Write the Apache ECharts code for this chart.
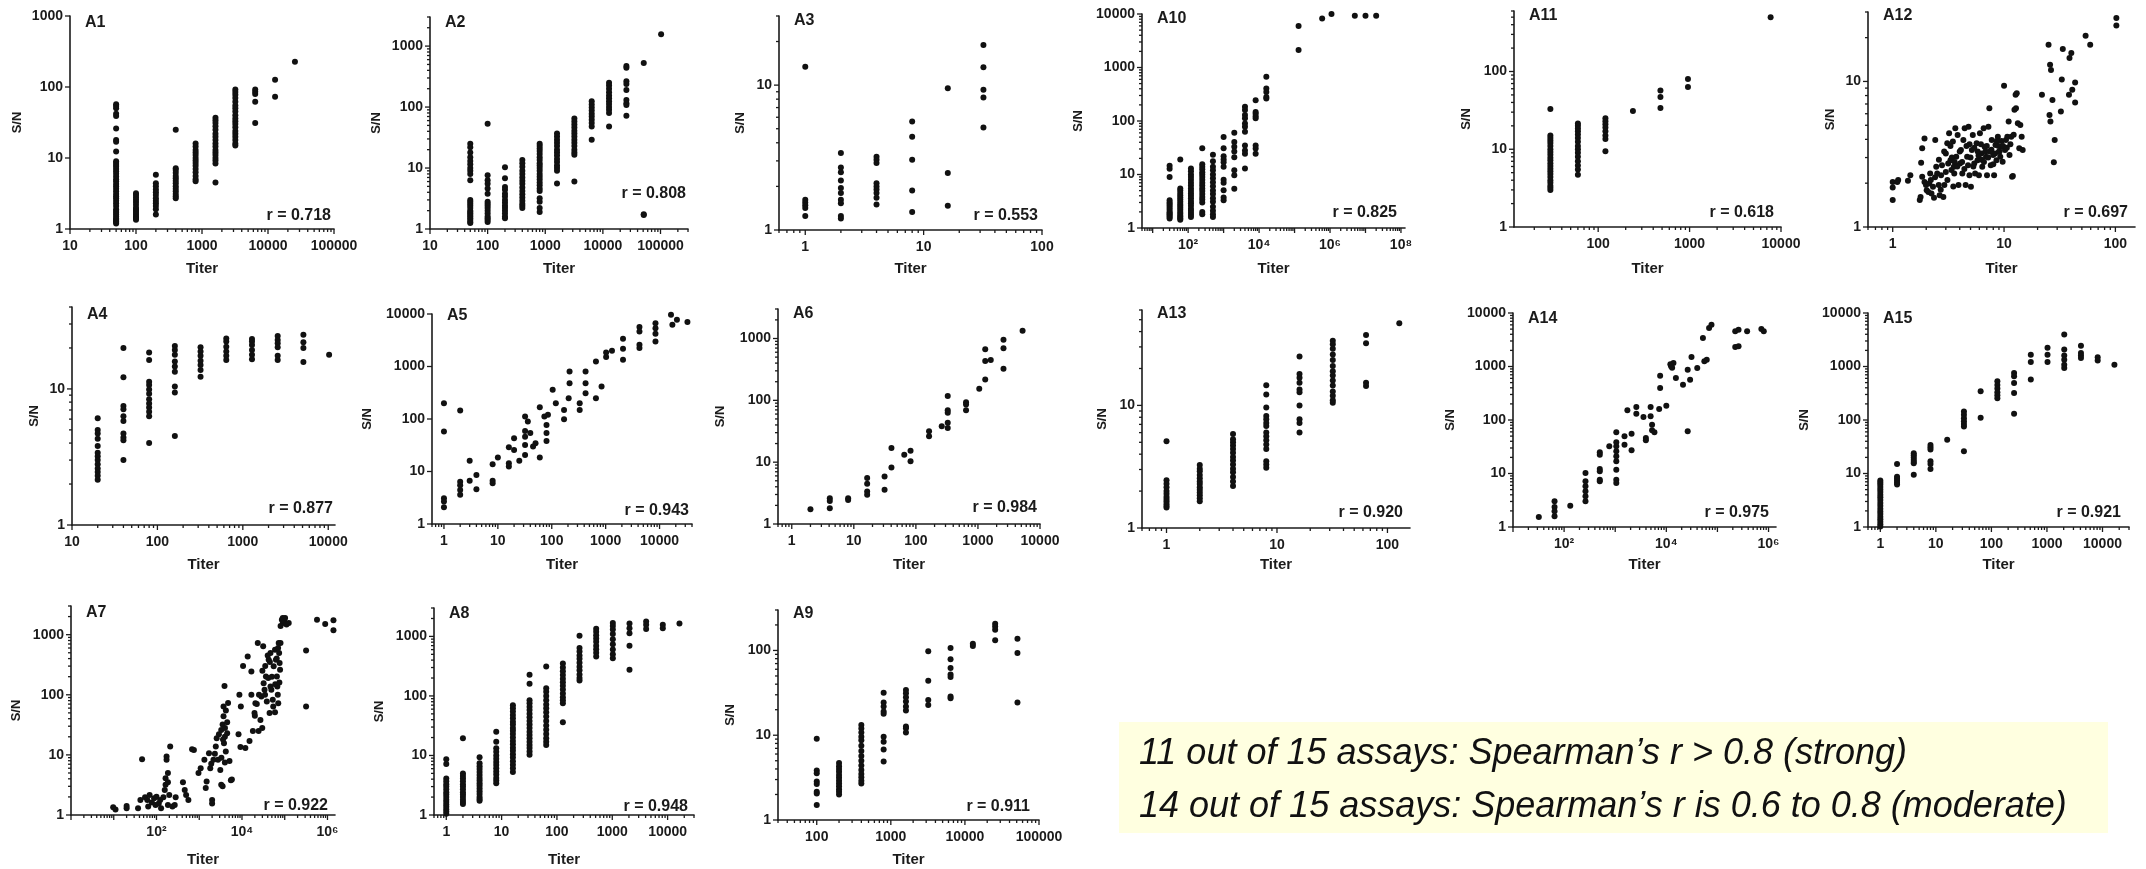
<!DOCTYPE html>
<html><head><meta charset="utf-8">
<script src="https://cdn.jsdelivr.net/npm/echarts@6/dist/echarts.min.js"></script>
<style>html,body{margin:0;padding:0;background:#fff}#c{width:2146px;height:869px}</style>
</head><body><div id="c"></div>
<script>
// ---------------- DATA (titer, S/N) ----------------
const panelIds = ['A1','A2','A3','A10','A11','A12','A4','A5','A6','A13','A14','A15','A7','A8','A9'];
const rValues  = ['0.718','0.808','0.553','0.825','0.618','0.697','0.877','0.943','0.984','0.920','0.975','0.921','0.922','0.948','0.911'];
const xRanges = [[10,1e5],[10,3e5],[0.6,100],[5,1.3e8],[12,1e4],[0.6,150],[10,12000],[0.6,40000],[0.6,1e4],[0.6,160],[10,1.4e6],[0.6,30000],[1,1.5e6],[0.6,30000],[30,1e5]];
const yRanges = [[1,1000],[1,3000],[1,30],[1,1e4],[1,600],[1,30],[1,40],[1,1e4],[1,3000],[1,60],[1,1e4],[1,1e4],[1,3000],[1,3000],[1,300]];
const superscriptX = ['A10','A14','A7'];

// column style data: [titer, [S/N values]]
const A1 = [
 [50,[57,54,50,42,39,26,18,17,12.3,9,8.5,8,7.5,7,6.5,6,5.5,5,4.7,4.3,4,3.7,3.4,3.1,2.9,2.7,2.5,2.3,2.1,1.9,1.8,1.7,1.6,1.5,1.4,1.35,1.3,1.25,1.2]],
 [100,[3.2,3.0,2.8,2.6,2.4,2.2,2.0,1.9,1.8,1.7,1.6,1.5,1.45,1.4,1.35]],
 [200,[5.8,4.4,4.0,3.6,3.3,3.0,2.7,2.5,2.3,2.1,1.9,1.6]],
 [400,[25,7.2,6.8,6.2,5.6,5.2,4.8,4.4,4.0,3.7,3.4,3.1,2.9,2.7]],
 [800,[16,14.5,13,12,11,10,9.2,8.5,7.8,7.0,6.3,5.6,5.0,4.7]],
 [1600,[37,34,31,28,25,22,20,18,16,14.5,13,12,11,10,9.2,8.4,4.5]],
 [3200,[92,85,78,70,62,55,50,45,40,36,33,30,27,24,22,20,18,16,15]],
 [6400,[92,86,80,62,31]],
 [12800,[127,73]],
 [25600,[226]]
];
const A2 = [
 [50,[25,22,18,15,13,11.5,10,9,8,6.3,3.0,2.8,2.6,2.4,2.2,2.0,1.9,1.8,1.7,1.6,1.5,1.4,1.3,1.25]],
 [100,[53,7.6,6.3,5.5,4.6,3.8,2.8,2.6,2.4,2.2,2.0,1.8,1.6,1.5,1.4,1.3]],
 [200,[10.3,6.8,4.9,4.4,3.8,3.4,3.0,2.7,2.4,2.2,2.0,1.8,1.6,1.5]],
 [400,[13.5,12,10.5,9,8,7,6.2,5.5,4.8,4.2,3.7,3.3,2.9,2.6,2.4,2.2]],
 [800,[25,23,21,19,17,15,13.5,12,11,10,9,8,7.2,6.5,5.8,5.2,4.6,4.2,3.2,2.8,2.2,1.9]],
 [1600,[37,33,29,26,23,20,18,16,14,12.5,11,10,9,5.6]],
 [3200,[65,58,52,46,41,37,33,29,26,23,20,18,16.5,6.0]],
 [6400,[125,110,98,88,78,70,62,55,48,29]],
 [12800,[250,225,200,175,155,140,125,112,100,90,80,48]],
 [25600,[470,440,265,240,190,130,115,108,72]],
 [51200,[530,1.75,1.7]],
 [102400,[1560]]
];
const A3 = [
 [1,[13.4,1.62,1.55,1.48,1.42,1.25]],
 [2,[3.4,2.7,2.5,2.2,1.95,1.8,1.62,1.53,1.25,1.2]],
 [4,[3.2,3.05,2.9,2.1,2.0,1.9,1.8,1.67,1.5]],
 [8,[5.6,4.4,3.06,1.87,1.33]],
 [16,[9.5,2.47,1.47]],
 [32,[18.9,13.3,9.3,8.2,5.1]]
];
const A10 = [
 [30,[14.5,12.8,9,3.3,3.0,2.8,2.6,2.4,2.2,2.0,1.9,1.8,1.7,1.6,1.5]],
 [60,[19,5.5,5.0,4.5,4.1,3.7,3.4,3.1,2.8,2.6,2.4,2.2,2.0,1.85,1.7,1.6,1.5,1.43]],
 [120,[12.9,11.5,10,9,8,7,6.2,5.5,4.9,4.4,4.0,3.6,3.2,2.9,2.6,2.3,2.1,1.9,1.75,1.6]],
 [250,[31,15.5,14,12.5,11,10,9,8,7,6.2,5.5,4.9,4.3,3.8,3.4,3.0,2.0,1.8]],
 [500,[23.5,17.7,14,12,10,8.5,7.2,6,5,4.3,3.6,3.1,2.5,2.1,1.8,1.6]],
 [1000,[50,31,22,19,17,14,8,7,5.1,3.7,3.3]],
 [2000,[60,40.5,33,27,21,12,9.7,5.4]],
 [4000,[185,160,130,112,90,78,63,35,28,24.5,12.9]],
 [8000,[245,148,137,123,112,35,30.5,24.5]],
 [16000,[670,405,350,282,262]],
 [130000,[5970,2130]],
 [600000,[8200]],
 [1100000,[10000]],
 [5000000,[9300]],
 [10000000,[9300]],
 [20000000,[9300]]
];
const A11 = [
 [30,[33,15,14,13,12,11,10,9.2,8.5,7.8,7.2,6.6,6.1,5.6,5.2,4.8,4.4,4.0,3.7,3.4,3.2,3.0]],
 [60,[21.5,20,18.5,17,15.5,14,12.5,11,10,9,8,7,6.2,5.5,4.7]],
 [120,[25,23,21,19,17,15,13.5,9.4]],
 [240,[31]],
 [480,[57,47,34]],
 [960,[80,63]],
 [7700,[500]]
];
// scattered style data: [titer, S/N]
const A12 = [
 [1,2.04],[1,1.87],[1,1.53],[1.1,2.04],[1.12,2.1],[1.37,2.08],[1.44,2.27],[1.75,1.53],[1.78,1.61],[1.8,2.76],[1.84,2.21],[1.84,3.47],[1.93,4.06],[1.93,2.04],[1.99,1.94],[2.02,1.79],[2.09,1.74],[2.13,1.99],[2.17,2.33],[2.23,1.7],[2.3,1.89],[2.35,1.59],[2.41,3.96],[2.46,2.59],[2.51,2.33],[2.59,1.94],[2.64,1.65],[2.72,2.27],[2.77,2.66],[2.85,1.61],[2.91,1.94],[3.0,2.39],[3.09,3.76],[3.15,2.73],[3.21,4.4],[3.3,2.88],[3.37,2.46],[3.47,3.86],[3.54,2.59],[3.57,2.33],[3.65,4.77],[3.72,3.04],[3.83,4.29],[3.9,1.94],[4.02,2.73],[4.1,3.38],[4.22,2.33],[4.31,3.96],[4.43,4.77],[4.52,1.94],[4.66,3.04],[4.75,2.66],[4.8,4.89],[4.89,2.27],[5.04,1.89],[5.14,3.38],[5.24,4.29],[5.4,2.73],[5.5,2.33],[5.67,3.76],[5.78,2.88],[5.95,2.27],[6.07,4.4],[6.25,3.2],[6.37,2.59],[6.56,4.77],[6.69,3.56],[6.89,3.04],[7.03,2.27],[7.24,4.89],[7.38,6.55],[7.6,2.66],[7.75,3.96],[7.98,3.12],[8.14,2.27],[8.38,3.66],[8.55,2.88],[8.8,4.17],[8.98,3.29],[9.25,3.04],[9.43,3.56],[9.71,2.81],[10,9.34],[10.2,3.38],[10.4,3.96],[10.7,4.17],[11.0,5.3],[11.2,3.12],[11.6,4.17],[11.8,2.21],[12.0,2.24],[12.4,6.38],[12.7,8.09],[12.8,6.55],[13.0,8.31],[13.3,5.16],[13.7,3.47],[14.0,5.02],[14.4,4.17],[14.7,3.38],[21.9,8.09],[25.1,17.9],[25.9,13.0],[26.4,12.0],[25.6,5.89],[26.1,5.3],[27.2,7.47],[28.0,2.78],[28.5,3.96],[32.4,6.21],[33.0,10.3],[33.7,16.7],[38.7,14.5],[40.2,15.7],[41.0,8.76],[38.3,8.09],[43.5,9.84],[43.5,7.16],[54,20.6],[59.4,17.9],[102,27.3],[102,24.2],
 [3.0,3.2],[3.4,3.0],[3.8,2.6],[4.2,2.8],[4.6,3.6],[5.0,3.0],[5.4,3.5],[5.9,3.1],[6.3,2.9],[6.8,3.3],[7.2,3.0],[7.7,3.4],[8.3,3.2],[8.9,3.6],[9.5,3.9],[2.6,2.9],[2.9,3.3],[3.3,3.6],[3.6,2.8],[4.0,3.3],[4.4,2.5],[4.9,3.7],[5.3,2.6],[5.8,3.3],[6.2,3.7],[6.6,2.8],[7.0,3.6],[7.4,3.3],[8.0,2.7],[8.6,3.9],[9.1,3.3],[9.8,3.6],[10.6,3.5],[11.4,3.7],[12.2,4.3],[2.2,2.1],[2.4,2.2],[2.7,1.8],[3.1,2.1],[3.5,1.9]
];
const A4 = [
 [20,[6.1,5.0,4.7,4.3,3.8,3.4,3.2,3.0,2.8,2.6,2.45,2.3,2.15]],
 [40,[20,12.2,7.5,7.1,6.3,5.8,4.7,4.4,4.2,3.0]],
 [80,[18.5,16.3,11.3,10.7,9.9,9.2,8.4,7.8,7.3,6.8,6.3,4.0]],
 [160,[20.7,19.3,17.8,15.9,14.6,13.4,10.4,9.4,4.5]],
 [320,[20.2,18.8,17.5,16.1,15.0,13.8,12.3]],
 [640,[23.5,22.3,20.4,18.8,17.5,16.3]],
 [1280,[23.3,22.3,21.0,19.3,17.8,16.5]],
 [2560,[24.5,22.9,21.7,20.2,17.5,16.3]],
 [5120,[25,22,20,15.8]],
 [10240,[17.8]]
];
const A5 = [
 [1,200],[1,57.7],[1,3.08],[1,2.67],[1,2.08],[2,145],[2,6.4],[2,5.5],[2,4.45],[2,3.6],[3,16.1],[3,6.7],[4,8.6],[4,4.6],[8,13.7],[8,6.7],[8,6.0],[10,18.4],[16,29],[16,14.4],[16,12.4],[20,43],[20,25.8],[25,16.1],[32,59],[32,46],[32,20.7],[32,32],[32,111],[36,90],[40,54],[45,30],[50,34.5],[60,18.4],[60,168],[73,111],[80,77],[80,54],[80,38],[85,120],[104,359],[119,200],[169,99],[169,149],[206,249],[214,804],[214,482],[330,149],[330,200],[424,804],[424,482],[424,310],[660,249],[660,1250],[840,416],[1020,1510],[1020,1850],[1310,1990],[2100,1340],[2100,2180],[2100,3380],[4240,5640],[4240,4660],[4240,2590],[4240,2240],[8400,6690],[8400,5380],[8400,4200],[8400,2990],[16300,9680],[17300,6240],[21000,7780],[32900,7020]
];
const A6 = [
 [2,1.73],[4.1,2.61],[4.1,2.36],[4.1,1.8],[8.1,2.61],[8.1,2.45],[16.4,5.52],[16.4,4.46],[16.4,3.35],[16.4,2.96],[31.3,5.87],[31.3,3.57],[40.4,16.9],[40.4,8.22],[65,13.2],[82,15.3],[82,10.3],[163,31.6],[163,26.2],[261,38.1],[326,117],[326,69.3],[326,62.7],[326,43.2],[326,35.8],[643,93.5],[643,85.7],[643,69.3],[1050,154],[1310,670],[1310,218],[1310,433],[1610,450],[2580,951],[2580,696],[2580,325],[5240,1330]
];
const A13 = [
 [1,[5.1,2.45,2.3,2.15,2.0,1.9,1.8,1.72,1.65,1.58,1.52,1.47]],
 [2,[3.27,3.05,2.9,2.7,2.55,2.4,2.28,2.15,2.05,1.95,1.85,1.75,1.65]],
 [4,[5.85,5.3,5.0,4.7,4.4,4.1,3.8,3.55,3.3,3.05,2.85,2.6,2.4,2.2]],
 [8,[14.6,12.3,9.6,8.2,7.7,7.2,6.8,6.0,5.6,5.2,4.8,4.4,3.5,3.3,3.1]],
 [16,[25,18,16.8,15.3,13.5,12.8,10,7.7,7.2,6.0]],
 [32,[33.7,31.5,29,26,23.5,21,19,17.5,16,14.5,13,12,11,10.5]],
 [64,[37.6,32.2,15.3,14.4]],
 [128,[46.8]]
];
const A14 = [
 [32,1.54],[65,3.02],[65,2.36],[65,1.96],[65,1.58],[132,2.5],[262,10.2],[262,7.14],[262,5.75],[262,4.64],[262,3.74],[262,3.02],[499,24.9],[499,22.5],[499,12.1],[499,11.0],[499,7.67],[499,7.14],[766,32.2],[1050,58.8],[1050,38.3],[1050,32.2],[1050,26],[1050,20.9],[1050,16.9],[1050,11.8],[1050,7.67],[1050,6.64],[1520,34.6],[1520,49.5],[1730,152],[2090,55.6],[2090,27.1],[2590,175],[2590,131],[3570,114],[3980,46.1],[3980,41.7],[4930,175],[4930,117],[5260,81.8],[5260,64.1],[5850,58.8],[7250,161],[7570,674],[7570,396],[10000,185],[12400,1080],[12400,1010],[13800,1160],[12000,1100],[13000,950],[15400,610],[21200,457],[26200,873],[26200,61.4],[29200,567],[31100,1510],[40300,937],[52000,3410],[55500,1250],[61800,1340],[68700,5250],[76500,6050],[223000,2310],[259000,2380],[223000,4540],[259000,4880],[381000,4540],[724000,5020],[807000,4540]
];
const A15 = [
 [1,[7.4,6.8,6.2,5.6,5.0,4.5,4.0,3.6,3.2,2.8,2.5,2.2,1.95,1.75,1.55,1.4,1.25,1.12,1.02]],
 [2,[15,8.7,8.0,7.3,6.7,6.2]],
 [4,[24,22,20,18,16.5,15.5,9.5]],
 [8,[34,31,28,17,15,12.1]],
 [16,[42.8]],
 [32,[144,125,108,95,84,76,26]],
 [64,[344,110]],
 [128,[530,450,390,330,290,256]],
 [256,[757,655,491,320,131]],
 [512,[1650,1210,570]],
 [1024,[2230,1650,1210]],
 [2048,[3950,2070,1600,1340,1080,940]],
 [4096,[2450,1780,1600,1440]],
 [8192,[1490,1300]],
 [16384,[1080]]
];
const A7 = [
 [9.7,1.34],[11,1.24],[20,1.29],[20,1.41],[37,1.29],[42,1.78],[46,8.5],[54,1.97],[61,1.78],[64,1.38],[69,2.15],[78,1.61],[88,1.9],[95,1.47],[100,2.02],[113,1.56],[122,1.78],[128,1.29],[145,1.97],[156,2.61],[163,4.1],[163,3.2],[172,9.4],[172,8.3],[185,5.0],[185,3.5],[185,1.47],[199,2.15],[209,13.8],[236,1.38],[267,1.47],[281,1.97],[416,3.5],[458,2.6],[493,2.15],[558,1.78],[680,12.4],[750,12.1],[960,5.0],[1080,6.0],[1320,8.3],[1420,2.8],[1490,3.6],[1690,10.7],[1810,6.0],[1910,7.1],[2000,1.78],[2000,1.56],[2150,8.3],[2320,10.4],[2440,13.8],[2560,19],[2750,8.3],[2890,22],[3110,5.6],[3270,26],[3520,32],[3700,44],[3700,64],[3790,15.6],[3980,20],[3980,7.5],[4180,11.4],[4500,23],[4730,73],[3270,3.2],[3520,3.0],[3900,140],[5100,7.9],[5500,3.8],[5800,3.9],[4200,55],[4500,35],[4000,28],[3600,18],[3300,9],[8300,22],[8700,100],[9200,13.5],[9400,64],[10600,300],[13600,435],[16600,245],[16600,100],[19600,50],[20600,72],[22200,70],[23400,726],[24500,25],[27000,38],[28400,94],[29800,28],[31300,640],[32100,156],[33700,121],[34600,100],[36300,202],[38100,77],[41000,190],[42100,383],[44200,50],[46400,495],[46400,138],[48700,121],[52500,83],[53800,64],[55100,297],[59300,51],[59300,562],[62300,383],[65500,202],[67100,138],[68800,100],[70500,72],[72300,726],[74000,495],[75900,337],[77800,261],[79700,726],[85700,1780],[90100,1560],[97000,1670],[102000,1900],[110000,1470],[124000,1560],[316000,64],[316000,548],[569000,1780],[885000,1510],[1380000,1730],[1380000,1180],
 [15000,17],[18000,25],[20000,45],[12000,13],[25000,100],[30000,250],[35000,300],[40000,450],[45000,350],[50000,200],[60000,150],[65000,400],[70000,600],[75000,160],[80000,1400],[90000,1900]
];
const A8 = [
 [1,[8.6,7.2,4.1,3.7,3.3,3.0,2.7,2.4,2.2,2.0,1.8,1.65,1.5,1.38,1.25,1.15,1.05]],
 [2,[19.5,5.0,4.5,4.1,3.7,3.3,3.0,2.7,2.4,2.2,2.0,1.8,1.65,1.53]],
 [4,[9.3,7.4,6.6,5.9,5.3,4.7,4.2,3.8,3.4,3.1,2.8,2.5,2.25,2.0,1.85,1.74]],
 [8,[25,17,13.2,11.5,10,8.8,7.8,6.9,6.1,5.4,4.8,4.2,3.8,3.4]],
 [16,[70,62,55,48,42,37,33,29,26,23,20,17.5,15.5,13.5,12,10.5,9.2,8,7,6.1,5.3]],
 [32,[228,160,85,75,66,58,50,44,38,33,29,25,22,19.5,17,15,13.3,11.7,10.3]],
 [64,[312,135,118,100,85,72,62,53,45,38,32,27,23,19.5,17,15]],
 [128,[350,300,260,225,195,170,148,128,110,95,85,75,36]],
 [256,[1030,640,560,480,420,360,310,270,230,200,182]],
 [512,[1340,1200,1050,920,810,700,610,530,460]],
 [1024,[1680,1500,1300,1100,900,740,600,500,430]],
 [2048,[1650,1370,1130,700,275]],
 [4096,[1780,1570,1330]],
 [8192,[1570,1370]],
 [16384,[1650]]
];
const A9 = [
 [100,[9.1,3.83,3.55,2.84,2.66,2.16,2.06,1.5]],
 [200,[4.7,4.3,4.0,3.7,3.4,3.15,2.9,2.7,2.5,2.3,2.15,2.0]],
 [400,[13.2,12,10.8,9.6,8.7,7.5,6.5,5.7,5.0,4.4,3.9,3.5,3.2,2.9,2.7]],
 [800,[31.8,24.3,21.8,19,17.9,9.6,8.4,6.8,4.9]],
 [1600,[34.2,31.2,28,25,21.8,19.6,12.7,12.1,10.8]],
 [3200,[97.7,44,26.1,22.8]],
 [6400,[107,79,62,52,48.5,28.6,27.3]],
 [12800,[120,113]],
 [25600,[207,192,176,132]],
 [51200,[137,93,24.3]]
];
const noteLines = ['11 out of 15 assays: Spearman\u2019s r > 0.8 (strong)', '14 out of 15 assays: Spearman\u2019s r is 0.6 to 0.8 (moderate)'];

// ---------------- LAYOUT (pixels) ----------------
const L = {
 grid:  [[70,16,264,213],[430,17,258,212],[779,16,263,214],[1142,14,263,214],[1514,11,267,216],[1868,12,267,215],
         [72,307,263,218],[432,314,260,210],[778,309,262,215],[1142,310,268,218],[1513,313,263,214],[1868,313,261,214],
         [71,606,264,209],[434,608,260,207],[778,610,261,210]],
 titleY:[23,22.5,21,19,16,16,314.5,315.5,314,314,319,319,612.5,614,614],
 rPos:  [[331,216],[686,194],[1038,216],[1397,213],[1774,213],[2128,213],[333,509],[689,511],[1037,508],[1403,513],[1769,513],[2121,513],[328,806],[688,807],[1030,807]],
 snGap: [46,47,32.5,57.5,41,31.5,31.5,58,51.5,33.5,56.5,57.5,48.5,48.5,41.5],
 titerY:[269,269,269,269,269,269,565,565,565,565,565,565,860,860,860],
 yMinor:[false,true,true,true,true,true,true,false,true,true,true,true,true,true,true]
};

const FONT = '"Liberation Sans", Arial, Helvetica, sans-serif';
const INK = '#1b1b1b';
const SUP = {0:'\u2070',1:'\u00b9',2:'\u00b2',3:'\u00b3',4:'\u2074',5:'\u2075',6:'\u2076',7:'\u2077',8:'\u2078',9:'\u2079'};

function cols(arr){ const out=[]; arr.forEach(c=>{ if(Array.isArray(c[1])) c[1].forEach(y=>out.push([c[0],y])); else out.push(c); }); return out; }
const dataSets = {A1,A2,A3,A10,A11,A12,A4,A5,A6,A13,A14,A15,A7,A8,A9};

function isPow10(v){ const l=Math.log10(v); return Math.abs(l-Math.round(l))<1e-6; }
function plainFmt(v){ if(!isPow10(v)) return ''; const e=Math.round(Math.log10(v)); return e>=0 ? String(Math.pow(10,e)) : String(v); }
function supFmt(v){ if(!isPow10(v)) return ''; const e=Math.round(Math.log10(v)); return (e>0 && e%2===0) ? '10'+SUP[e] : ''; }

function tickList(min,max){
  const out=[];
  for(let e=Math.floor(Math.log10(min))-1;e<=Math.ceil(Math.log10(max));e++){
    for(let m=1;m<=9;m++){ const v=m*Math.pow(10,e); if(v>=min*0.9999 && v<=max*1.0001) out.push([v,m===1]); }
  }
  return out;
}

const grid=[], xAxis=[], yAxis=[], series=[], graphic=[];
panelIds.forEach((id,i)=>{
  const g=L.grid[i];
  grid.push({left:g[0],top:g[1],width:g[2],height:g[3],containLabel:false,outerBoundsMode:'none'});
  const sup = superscriptX.indexOf(id)>=0;
  xAxis.push({type:'log',logBase:10,gridIndex:i,min:xRanges[i][0],max:xRanges[i][1],
    axisLine:{show:true,onZero:false,lineStyle:{color:INK,width:1.6}},
    axisTick:{show:false},minorTick:{show:false},splitLine:{show:false},
    axisLabel:{show:true,margin:10,color:INK,fontFamily:FONT,fontWeight:'bold',fontSize:14,hideOverlap:false,showMinLabel:true,showMaxLabel:true,formatter: sup?supFmt:plainFmt},
    name:'Titer',nameLocation:'middle',nameGap:L.titerY[i]-(g[1]+g[3])-8,nameMoveOverlap:false,
    nameTextStyle:{color:INK,fontFamily:FONT,fontWeight:'bold',fontSize:15}
  });
  yAxis.push({type:'log',logBase:10,gridIndex:i,min:yRanges[i][0],max:yRanges[i][1],
    axisLine:{show:true,onZero:false,lineStyle:{color:INK,width:1.6}},
    axisTick:{show:false},minorTick:{show:false},splitLine:{show:false},
    axisLabel:{show:true,margin:7,color:INK,fontFamily:FONT,fontWeight:'bold',fontSize:14,hideOverlap:false,showMinLabel:true,showMaxLabel:true,formatter:plainFmt},
    name:'S/N',nameLocation:'middle',nameGap:L.snGap[i],nameRotate:90,nameMoveOverlap:false,
    nameTextStyle:{color:INK,fontFamily:FONT,fontWeight:'bold',fontSize:13}
  });
  series.push({type:'scatter',xAxisIndex:i,yAxisIndex:i,data:cols(dataSets[id]),symbol:'circle',symbolSize:6,
    itemStyle:{color:'#111',opacity:1},silent:true,animation:false});
  // axis tick marks (major at decades, minor at 2..9)
  const tdata=[];
  tickList(xRanges[i][0],xRanges[i][1]).forEach(t=>tdata.push([t[0],yRanges[i][0],t[1]?0:1]));
  tickList(yRanges[i][0],yRanges[i][1]).forEach(t=>{ if(t[1]||L.yMinor[i]) tdata.push([xRanges[i][0],t[0],t[1]?2:3]); });
  series.push({type:'custom',xAxisIndex:i,yAxisIndex:i,data:tdata,silent:true,animation:false,clip:false,
    renderItem:function(params,api){
      const k=api.value(2); const p=api.coord([api.value(0),api.value(1)]);
      const len=(k===0||k===2)?5:3;
      const shape = k<2 ? {x1:p[0],y1:p[1],x2:p[0],y2:p[1]+len} : {x1:p[0],y1:p[1],x2:p[0]-len,y2:p[1]};
      return {type:'line',shape:shape,style:{stroke:INK,lineWidth:1.3}};
    }});
  graphic.push({type:'text',x:g[0]+15,y:L.titleY[i],style:{text:id,font:'bold 16px '+FONT,fill:INK,textVerticalAlign:'middle',verticalAlign:'middle'}});
  graphic.push({type:'text',x:L.rPos[i][0],y:L.rPos[i][1],style:{text:'r = '+rValues[i],font:'bold 16px '+FONT,fill:INK,textAlign:'right',align:'right',textVerticalAlign:'middle',verticalAlign:'middle'}});
});
graphic.push({type:'rect',shape:{x:1119,y:722,width:989,height:111},style:{fill:'#FFFFE0'},z:-10});
graphic.push({type:'text',x:1139,y:754,style:{text:noteLines[0],font:'italic 36px '+FONT,fill:'#111',textVerticalAlign:'middle',verticalAlign:'middle'}});
graphic.push({type:'text',x:1139,y:807,style:{text:noteLines[1],font:'italic 36px '+FONT,fill:'#111',textVerticalAlign:'middle',verticalAlign:'middle'}});

const chart = echarts.init(document.getElementById('c'),null,{renderer:'canvas',width:2146,height:869});
chart.setOption({animation:false,backgroundColor:'#ffffff',grid,xAxis,yAxis,series,graphic});
</script></body></html>
